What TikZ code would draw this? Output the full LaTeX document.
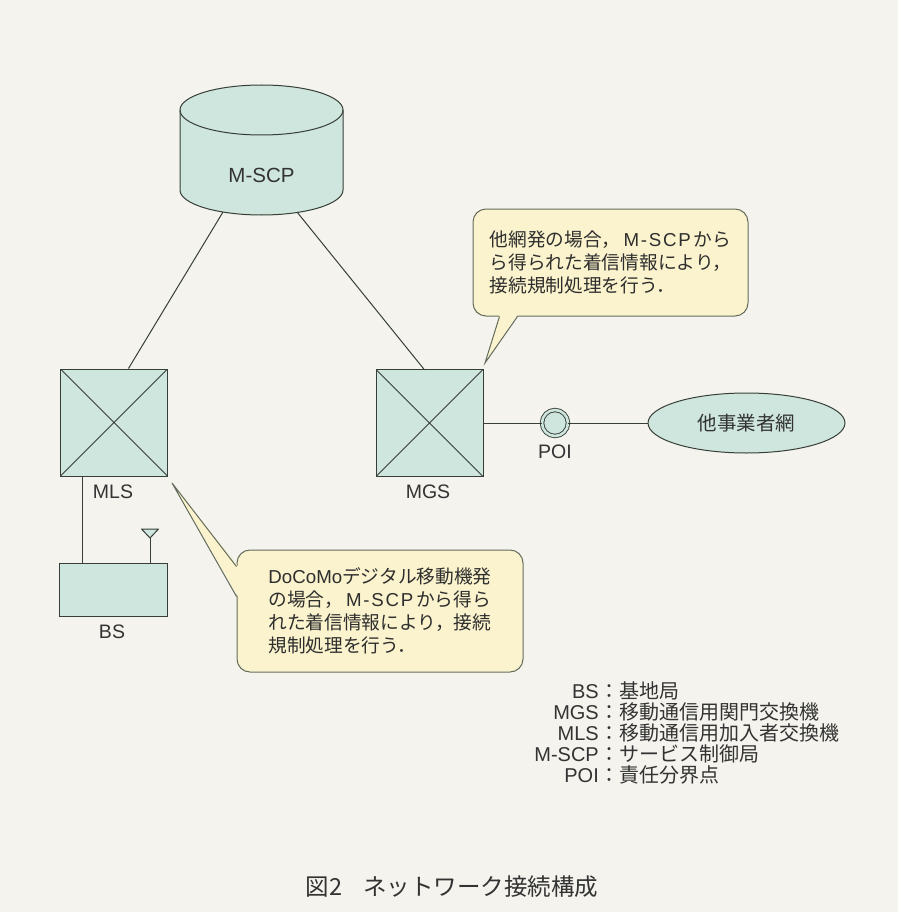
\documentclass[tikz,border=0pt]{standalone}
\usepackage{fontspec}
\setmainfont{Liberation Sans}
\newfontfamily\jpfont{Noto Sans CJK JP}
\usetikzlibrary{shapes.geometric}
\definecolor{paper}{RGB}{244,243,237}
\definecolor{boxfill}{RGB}{206,230,221}
\definecolor{notefill}{RGB}{250,243,205}
\definecolor{ink}{RGB}{55,62,56}
\definecolor{noteline}{RGB}{100,108,92}
\newcommand{\mscpwide}{\hspace{0.15em}\makebox[3.6em][s]{\rmfamily M\hfill-\hfill S\hfill C\hfill P}\hspace{0.15em}}
\tikzset{
  wire/.style={draw=ink, line width=1pt},
  xbox/.style={draw=ink, line width=1pt, fill=boxfill, minimum size=107pt, inner sep=0pt,
    path picture={\draw[ink, line width=0.9pt]
      (path picture bounding box.north west) -- (path picture bounding box.south east)
      (path picture bounding box.north east) -- (path picture bounding box.south west);}},
  lbl/.style={font=\fontsize{19.5}{22}\selectfont, text=black!80, inner sep=0pt},
  keytext/.style={font=\fontsize{20}{22}\selectfont, text=black!80, inner sep=0pt},
  notebox/.style={draw=noteline, line width=1pt, fill=notefill, rounded corners=13pt,
    align=left, text=black!82, font=\jpfont\fontsize{18.7}{23}\selectfont, inner sep=0pt}
}
\begin{document}
\begin{tikzpicture}[x=1pt, y=-1pt]

\fill[paper] (0,0) rectangle (898,912);

\path[wire, fill=boxfill] (180,110) -- (180,190) arc[start angle=180, end angle=0, x radius=81.5, y radius=25]
  -- (343,110) arc[start angle=0, end angle=-180, x radius=81.5, y radius=25] -- cycle;
\draw[wire] (180,110) arc[start angle=180, end angle=0, x radius=81.5, y radius=25];
\node[lbl, font=\fontsize{20.5}{22}\selectfont] (mscp) at (261.5,175) {M-SCP};
\coordinate (mscpbl) at (223,212);
\coordinate (mscpbr) at (297,212);

\node[xbox] (mls) at (114,422.5) {};
\node[xbox] (mgs) at (429.5,423) {};
\node[lbl] (mlslbl) at (113,492) {MLS};
\node[lbl] (mgslbl) at (428,492) {MGS};

\node[draw=ink, line width=1pt, fill=boxfill, minimum width=108pt, minimum height=53pt] (bs) at (113,589.5) {};
\node[lbl] (bslbl) at (112,632) {BS};
\coordinate (ant) at (150,538);
\draw[wire] (ant |- bs.north) -- (ant);
\draw[wire, fill=boxfill, line join=round] (ant) -- ++(-8.5,-9) -- ++(17,0) -- cycle;

\node[circle, draw=ink, line width=0.9pt, double=boxfill, double distance=2.6pt, fill=boxfill,
  minimum size=26pt, inner sep=0pt] (poi) at (555,423) {};
\node[lbl] (poilbl) at (555,452) {POI};
\node[ellipse, draw=ink, line width=1pt, fill=boxfill, minimum width=197pt, minimum height=60pt,
  text=black!80, font=\jpfont\fontsize{19.5}{20}\selectfont] (net) at (746.5,423) {他事業者網};

\draw[wire] (mscpbl) -- (mls.75);
\draw[wire] (mscpbr) -- (mgs.96);
\draw[wire] (mls.240) -- (mls.240 |- bs.north);
\draw[wire] (mgs) -- (poi);
\draw[wire] (poi) -- (net);

\node[notebox, minimum width=275pt, minimum height=107pt] (note1) at (610.5,262.5)
  {他網発の場合，{\mscpwide}から\\ら得られた着信情報により，\\接続規制処理を行う．};
\coordinate (tip1) at (485,363);
\fill[notefill] ([xshift=27pt,yshift=1.5pt]note1.south west) -- (tip1) -- ([xshift=45pt,yshift=1.5pt]note1.south west) -- cycle;
\draw[noteline, line width=1pt] ([xshift=27pt]note1.south west) -- (tip1) -- ([xshift=45pt]note1.south west);

\node[notebox, minimum width=286pt, minimum height=122pt] (note2) at (380,611)
  {{\rmfamily DoCoMo}デジタル移動機発\\の場合，{\mscpwide}から得ら\\れた着信情報により，接続\\規制処理を行う．};
\coordinate (tip2) at (172,483);
\fill[notefill] ([xshift=1.5pt,yshift=-17pt]note2.north west) -- (tip2) -- ([xshift=1.5pt,yshift=-47pt]note2.north west) -- cycle;
\draw[noteline, line width=1pt] ([yshift=-17pt]note2.north west) -- (tip2) -- ([yshift=-47pt]note2.north west);

\foreach \ab/\jp [count=\i] in {BS/基地局, MGS/移動通信用関門交換機, MLS/移動通信用加入者交換機, M-SCP/サービス制御局, POI/責任分界点} {
  \node[keytext, anchor=base east] (key\i) at (599,677+21*\i) {\ab};
  \node[keytext, anchor=base west] (val\i) at (599,677+21*\i) {\jpfont ：\jp};
}

\node[text=black!80, font=\jpfont\fontsize{23.5}{26}\selectfont] (caption) at (452,887) {図2\hspace{0.9em}ネットワーク接続構成};

\end{tikzpicture}
\end{document}
